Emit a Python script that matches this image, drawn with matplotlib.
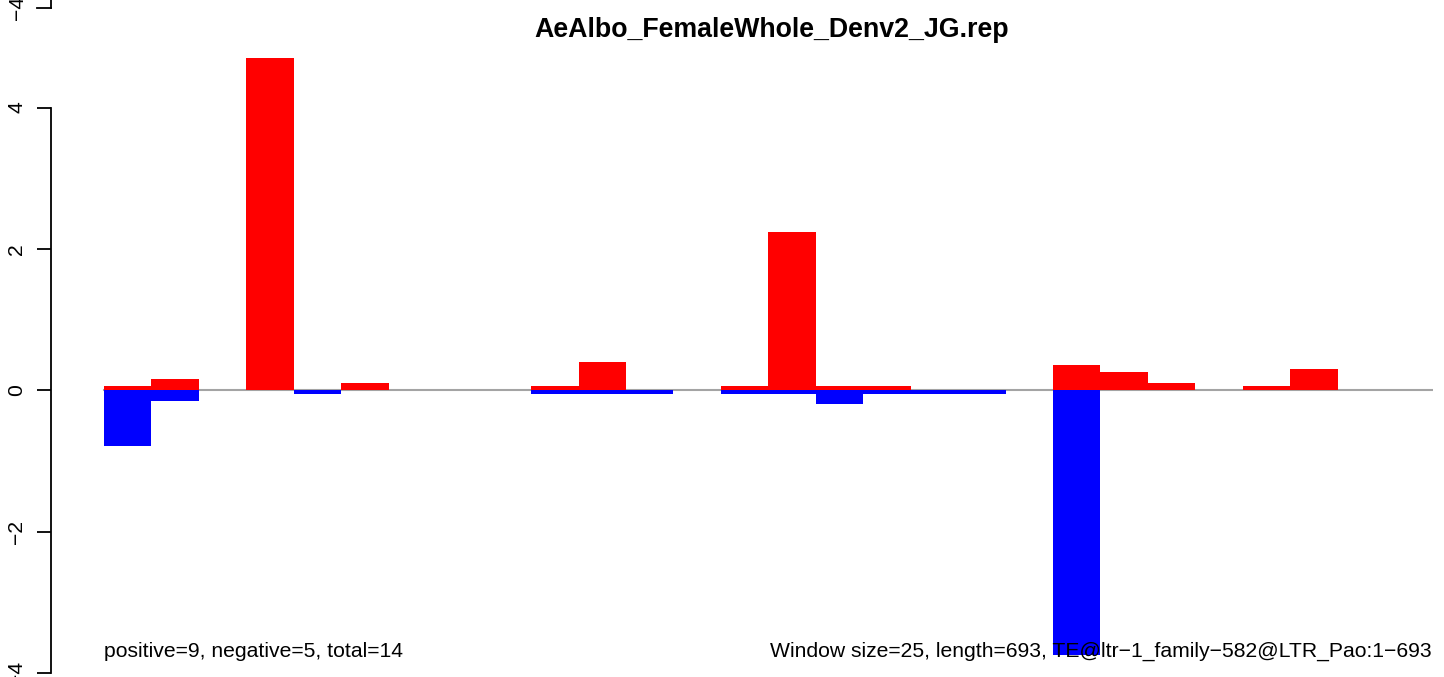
import numpy as np
import matplotlib
matplotlib.use("Agg")
import matplotlib.pyplot as plt
from matplotlib.lines import Line2D

plt.rcParams["font.family"] = ["Liberation Sans", "DejaVu Sans"]

# one value per window of 25 bp (28 windows)
pos_vals = [0.06, 0.16, 0, 4.70, 0, 0.10, 0, 0, 0, 0.06, 0.40, 0, 0, 0.06,
            2.24, 0.06, 0.06, 0, 0, 0, 0.36, 0.26, 0.10, 0, 0.06, 0.30, 0, 0]
neg_vals = [-0.79, -0.15, 0, 0, -0.05, 0, 0, 0, 0, -0.05, -0.05, -0.05, 0, -0.05,
            -0.05, -0.19, -0.05, -0.05, -0.05, 0, -3.75, 0, 0, 0, 0, 0, 0, 0]
y_ticks = [-4, -2, 0, 2, 4]

title = "AeAlbo_FemaleWhole_Denv2_JG.rep"
left_note = "positive=9, negative=5, total=14"
right_note = "Window size=25, length=693, TE@ltr\u22121_family\u2212582@LTR_Pao:1\u2212693"

W, H = 1444, 677
fig = plt.figure(figsize=(W / 100, H / 100), dpi=100)

px_bin = 47.45
px_unit = 70.7
zero_y = 390.3
ax_left, ax_right = 51, 1432.6
ax = fig.add_axes([ax_left / W, 0, (ax_right - ax_left) / W, 1])
ax.set_xlim(-(104 - ax_left) / px_bin, len(pos_vals))
ax.set_ylim(-(H - zero_y) / px_unit, zero_y / px_unit)

x = np.arange(len(pos_vals))
ax.axhline(0, xmin=(104 - ax_left) / (ax_right - ax_left), xmax=1,
           color="#a4a4a4", lw=1.5, zorder=1)
ax.bar(x, pos_vals, width=1, align="edge", color="red", zorder=2)
ax.bar(x, neg_vals, width=1, align="edge", color="blue", zorder=2)

for s in ["top", "right", "bottom"]:
    ax.spines[s].set_visible(False)
ax.spines["left"].set_bounds(-4, 4)
ax.spines["left"].set_linewidth(1.3)
ax.set_xticks([])
ax.set_yticks(y_ticks)
ax.set_yticklabels([f"{v:d}".replace("-", "\u2212") for v in y_ticks],
                   rotation=90, va="center", fontsize=15.2)
ax.tick_params(axis="y", length=10, width=1.3, pad=8)

# fragment of the panel above
fig.add_artist(Line2D([ax_left / W, ax_left / W], [1, 1 - 8 / H],
                      color="black", lw=1.3, transform=fig.transFigure))
fig.add_artist(Line2D([37 / W, ax_left / W], [1 - 8 / H, 1 - 8 / H],
                      color="black", lw=1.3, transform=fig.transFigure))
fig.text(18 / W, 1 - 8 / H, "\u22124", rotation=90, ha="center",
         va="center", fontsize=15.2)

fig.text(772 / W, 1 - 37 / H, title, ha="center", va="baseline",
         fontsize=19.3, fontweight="bold")
fig.text(104 / W, 1 - 657 / H, left_note, ha="left", va="baseline",
         fontsize=15.2, zorder=5)
fig.text(1432 / W, 1 - 657 / H, right_note, ha="right", va="baseline",
         fontsize=15.2, zorder=5)

fig.savefig("out.png", dpi=100)
